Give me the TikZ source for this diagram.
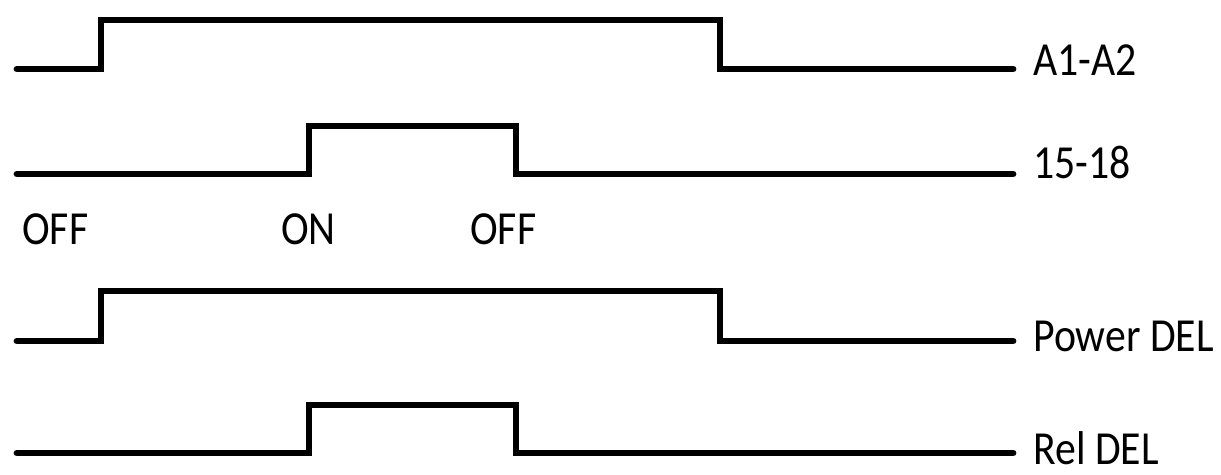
\documentclass[tikz,border=0pt]{standalone}
\usepackage{fontspec}
\usepackage{tikz}
\usetikzlibrary{positioning}
\newfontfamily\lblfont[FakeStretch=0.88]{Carlito}

\begin{document}
\begin{tikzpicture}[x=0.02cm, y=-0.02cm,
    wave/.style={line width=3.9pt, line cap=round, line join=miter},
    siglabel/.style={anchor=base west, inner sep=0pt,
                     font=\lblfont\fontsize{27}{30}\selectfont},
    statelabel/.style={anchor=base west, inner sep=0pt,
                       font=\lblfont\fontsize{27}{30}\selectfont}]

    \useasboundingbox (0,0) rectangle (1221,475);

    % End points of the signal lines
    \coordinate (aend) at (1013,69);
    \coordinate (cend) at (1013,174);
    \coordinate (pend) at (1013,341);
    \coordinate (rend) at (1013,453);

    % Supply A1-A2
    \draw[wave] (17,69) -- (101,69) -- (101,20) -- (720,20) -- (720,69) -- (aend);
    \node[siglabel] (asig) at (1033,76) {A1-A2};

    % Control contact 15-18
    \draw[wave] (17,174) -- (309,174) -- (309,126) -- (516,126) -- (516,174) -- (cend);
    \node[siglabel] (csig) at (1033,179) {15-18};

    % States of the contact
    \node[statelabel] (off1) at (22,245) {OFF};
    \node[statelabel] (on) at (281,245) {ON};
    \node[statelabel] (off2) at (470,245) {OFF};

    % Power LED
    \draw[wave] (17,341) -- (101,341) -- (101,291) -- (720,291) -- (720,341) -- (pend);
    \node[siglabel] (psig) at (1033,352) {Power DEL};

    % Relay LED
    \draw[wave] (17,453) -- (309,453) -- (309,405) -- (516,405) -- (516,453) -- (rend);
    \node[siglabel] (rsig) at (1033,465) {Rel DEL};

\end{tikzpicture}
\end{document}
